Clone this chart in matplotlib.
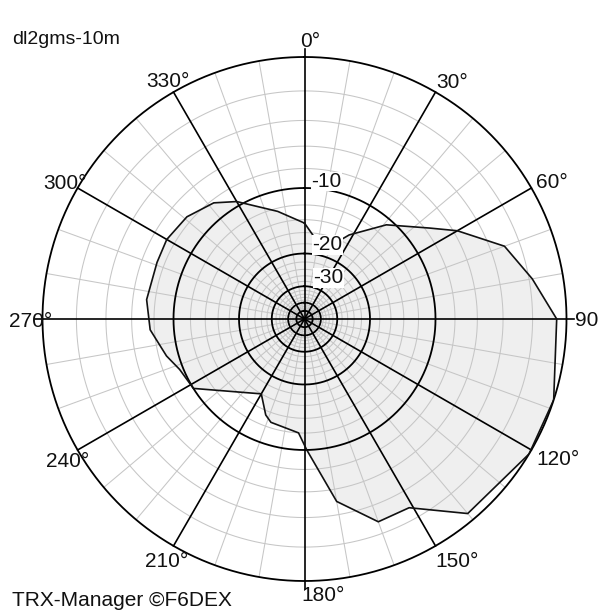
import numpy as np
import matplotlib
matplotlib.use("Agg")
import matplotlib.pyplot as plt

plt.rcParams['font.family'] = ['Liberation Sans', 'DejaVu Sans']

# ---- data (bearing in degrees, relative level in dB) ----
bearing_deg = [0, 8, 18, 28, 41, 54, 60, 70, 80, 90, 108, 121, 140, 151, 160, 170,
               179, 183, 198, 202, 210, 238, 248, 255, 266, 277, 291, 300, 311, 322,
               330, 346]
level_db = [-14.5, -17.0, -18.0, -14.6, -10.7, -7.6, -5.7, -3.0, -1.8, -0.55, 0.0, 0.0,
            -0.45, -2.8, -2.8, -5.0, -10.0, -12.0, -12.7, -13.4, -16.0, -10.0, -9.6,
            -8.75, -7.6, -7.2, -7.3, -7.2, -7.5, -8.3, -9.5, -12.4]

ring_db = list(range(0, -62, -2))          # grid rings every 2 dB
black_ring_db = [0, -10, -20, -30, -40, -50]
spoke_deg = list(range(0, 360, 10))         # grid spokes every 10 deg
angle_labels = ['0°', '30°', '60°', '90', '120°', '150°', '180°', '210°', '240°',
                '270°', '300°', '330°']
ring_labels = ['-10', '-20', '-30']
title_text = 'dl2gms-10m'
footer_text = 'TRX-Manager ©F6DEX'


def db_to_r(db):
    # each 10 dB halves the radius
    return 2.0 ** (np.asarray(db, dtype=float) / 10.0)


W, H = 600, 616
fig = plt.figure(figsize=(W / 100, H / 100), dpi=100)
cx, cy_top, R = 304.5, 319.0, 262.0
cy = H - cy_top
ax = fig.add_axes([(cx - R) / W, (cy - R) / H, 2 * R / W, 2 * R / H], projection='polar')
ax.set_theta_zero_location('N')
ax.set_theta_direction(-1)
ax.set_rlim(0, 1)
ax.set_xticks([])
ax.set_yticks([])
ax.grid(False)
ax.spines['polar'].set_visible(False)
ax.patch.set_facecolor('white')

grey = '#c6c6c6'
fillc = '#efefef'

# pattern fill
th = np.deg2rad(bearing_deg + [bearing_deg[0]])
rr = db_to_r(level_db + [level_db[0]])
ax.fill(th, rr, color=fillc, zorder=1, lw=0)

# grid
tt = np.linspace(0, 2 * np.pi, 1441)
for d in ring_db:
    if d in black_ring_db:
        continue
    ax.plot(tt, np.full_like(tt, db_to_r(d)), color=grey, lw=0.75, zorder=2)
for a in spoke_deg:
    if a % 30:
        ax.plot([np.deg2rad(a)] * 2, [0, 1], color=grey, lw=0.75, zorder=2)
for d in black_ring_db:
    ax.plot(tt, np.full_like(tt, db_to_r(d)), color='black', lw=1.3, zorder=3,
            clip_on=False)
for a in spoke_deg:
    if a % 30 == 0:
        ext = 1.03 if a % 90 == 0 else 1.0
        ax.plot([np.deg2rad(a)] * 2, [0, ext], color='black', lw=1.2, zorder=3,
                clip_on=False)

# pattern outline
ax.plot(th, rr, color='#111111', lw=1.2, zorder=4)

fs = 15
# angle labels: offsets in pixels (left edge, baseline) relative to the point on the outer circle
label_off = {
    '0°': (-4, 10), '30°': (1, 4), '60°': (5, 0), '90': (8, -7),
    '120°': (5, -15), '150°': (0, -21), '180°': (-3, -20), '210°': (-28, -21),
    '240°': (-32, -17), '270°': (-33, -8), '300°': (-34, -1), '330°': (-27, 5),
}
for lab in angle_labels:
    a = float(lab.rstrip('°'))
    ax.annotate(lab, xy=(np.deg2rad(a), 1.0), xytext=label_off[lab],
                textcoords='offset pixels', ha='left', va='baseline', fontsize=fs,
                color='#111111', annotation_clip=False, zorder=6)

ring_off = {'-10': (7, 1), '-20': (8, 3), '-30': (9, 3)}
for lab in ring_labels:
    ax.annotate(lab, xy=(0.0, float(db_to_r(float(lab)))), xytext=ring_off[lab],
                textcoords='offset pixels', ha='left', va='baseline', fontsize=fs,
                color='#111111', annotation_clip=False, zorder=6,
                bbox=dict(facecolor='white', edgecolor='none', pad=0.3))

fig.text(12 / W, (H - 44) / H, title_text, ha='left', va='baseline', fontsize=14,
         color='#111111')
fig.text(12 / W, (H - 606) / H, footer_text, ha='left', va='baseline', fontsize=15,
         color='#111111')

fig.savefig('out.png', dpi=100)
